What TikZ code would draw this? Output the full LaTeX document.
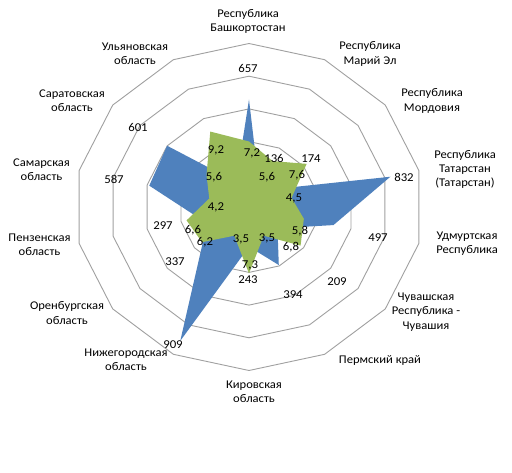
\documentclass[tikz,border=0pt]{standalone}
\usepackage{fontspec}
\setmainfont{Carlito}
\definecolor{serblue}{HTML}{4F81BD}
\definecolor{sergreen}{HTML}{9BBB59}
\definecolor{gridgray}{HTML}{A0A0A0}
\begin{document}
\begin{tikzpicture}[x=1pt,y=-1pt,
  lab/.style={font=\fontsize{11.8}{14.2}\selectfont, align=center, inner sep=0pt, xscale=1.066},
  val/.style={font=\fontsize{12}{13}\selectfont, inner sep=0pt, xscale=1.066},
  gridline/.style={draw=gridgray, line width=0.9pt},
  bluearea/.style={fill=serblue},
  greenarea/.style={fill=sergreen}]
\useasboundingbox (0,0) rectangle (512,473);
\fill[white] (0,0) rectangle (512,473);
\begin{scope}[shift={(249,207)}, xscale=1.066, yscale=-1]
  \foreach \r in {32.7,65.4,98.1,130.8,163.5}{
    \draw[gridline] (90:\r) \foreach \i in {1,...,13}{ -- ({90-\i*360/14}:\r) } -- cycle;
  }
  \fill[bluearea] (90:{657*0.1635})
    \foreach \v [count=\i] in {136,174,832,497,209,394,243,909,337,297,587,601,170}{
      -- ({90-\i*360/14}:{\v*0.1635}) } -- cycle;
  \fill[greenarea] (90:{7.2*9.1})
    \foreach \v [count=\i] in {5.6,7.6,4.5,5.8,6.8,3.5,7.3,3.5,6.2,6.6,4.2,5.6,9.2}{
      -- ({90-\i*360/14}:{\v*9.1}) } -- cycle;
\end{scope}
% category labels
\node[lab] (c0) at (248,21.5) {Республика\\Башкортостан};
\node[lab] (c1) at (370,54) {Республика\\Марий Эл};
\node[lab] (c2) at (432,101) {Республика\\Мордовия};
\node[lab] (c3) at (465,169.5) {Республика\\Татарстан\\(Татарстан)};
\node[lab] (c4) at (467,244) {Удмуртская\\Республика};
\node[lab] (c5) at (426,312) {Чувашская\\Республика -\\Чувашия};
\node[lab] (c6) at (380,360) {Пермский край};
\node[lab] (c7) at (254,392) {Кировская\\область};
\node[lab] (c8) at (126,360) {Нижегородская\\область};
\node[lab] (c9) at (67,313) {Оренбургская\\область};
\node[lab] (c10) at (39.5,244.5) {Пензенская\\область};
\node[lab] (c11) at (41.5,169.5) {Самарская\\область};
\node[lab] (c12) at (72,101) {Саратовская\\область};
\node[lab] (c13) at (135,54) {Ульяновская\\область};
% blue series labels
\node[val] (b0) at (248,68) {657};
\node[val] (b1) at (274,158) {136};
\node[val] (b2) at (311,159) {174};
\node[val] (b3) at (404,177) {832};
\node[val] (b4) at (378,238) {497};
\node[val] (b5) at (337,282) {209};
\node[val] (b6) at (293,295) {394};
\node[val] (b7) at (248,280) {243};
\node[val] (b8) at (173,345) {909};
\node[val] (b9) at (175,262) {337};
\node[val] (b10) at (163,226) {297};
\node[val] (b11) at (114,179) {587};
\node[val] (b12) at (138,127) {601};
% green series labels
\node[val] (g0) at (252,153) {7,2};
\node[val] (g1) at (267,177) {5,6};
\node[val] (g2) at (297,175) {7,6};
\node[val] (g3) at (294,198) {4,5};
\node[val] (g4) at (300,231) {5,8};
\node[val] (g5) at (291,247) {6,8};
\node[val] (g6) at (267,238) {3,5};
\node[val] (g7) at (250,265) {7,3};
\node[val] (g8) at (241,239) {3,5};
\node[val] (g9) at (205,242) {6,2};
\node[val] (g10) at (193,230) {6,6};
\node[val] (g11) at (216,207) {4,2};
\node[val] (g12) at (214,177) {5,6};
\node[val] (g13) at (216,150) {9,2};
\end{tikzpicture}
\end{document}
